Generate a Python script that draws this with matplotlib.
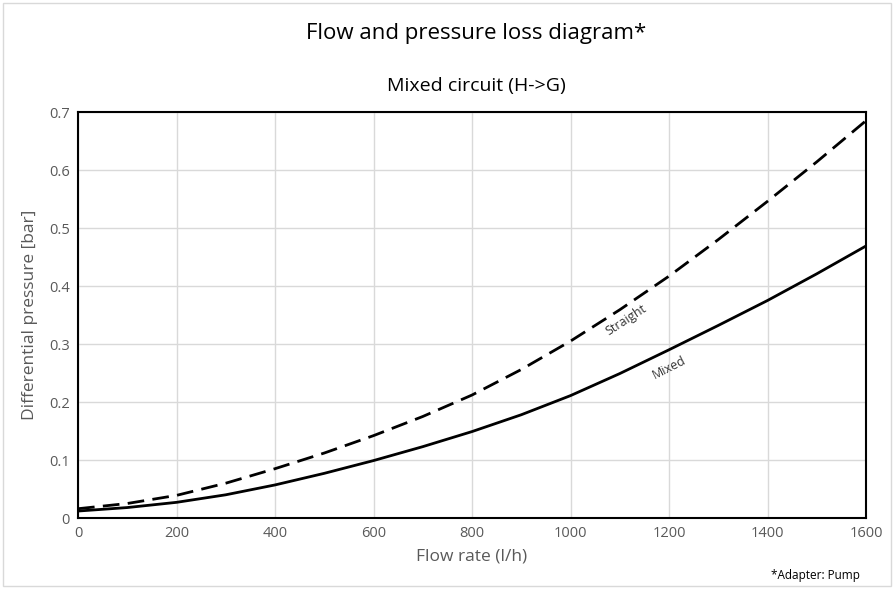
import matplotlib
matplotlib.use("Agg")
import matplotlib.pyplot as plt
from matplotlib.patches import Rectangle

flow = [0, 100, 200, 300, 400, 500, 600, 700, 800, 900, 1000, 1100, 1200, 1300, 1400, 1500, 1600]
mixed = [0.012, 0.018, 0.027, 0.040, 0.057, 0.077, 0.099, 0.123, 0.149, 0.178,
         0.211, 0.249, 0.290, 0.332, 0.375, 0.421, 0.469]
straight = [0.016, 0.025, 0.039, 0.060, 0.085, 0.112, 0.142, 0.175, 0.212, 0.256,
            0.305, 0.359, 0.417, 0.480, 0.546, 0.614, 0.685]
xticks = [0, 200, 400, 600, 800, 1000, 1200, 1400, 1600]
yticks = [0, 0.1, 0.2, 0.3, 0.4, 0.5, 0.6, 0.7]
ytick_labels = ["0", "0.1", "0.2", "0.3", "0.4", "0.5", "0.6", "0.7"]

plt.rcParams['font.family'] = ['Open Sans', 'DejaVu Sans']
W, H = 894, 589
fig = plt.figure(figsize=(W / 100, H / 100), dpi=100)
fig.patches.append(Rectangle((3 / W, 3 / H), (W - 6) / W, (H - 6) / H,
                             transform=fig.transFigure, fill=False,
                             edgecolor='#d9d9d9', linewidth=1))
ax = fig.add_axes([78 / W, (H - 518) / H, (866 - 78) / W, (518 - 112) / H])

ax.plot(flow, straight, color='black', lw=2, linestyle=(0, (6, 3)))
ax.plot(flow, mixed, color='black', lw=2)

ax.set_xlim(0, 1600)
ax.set_ylim(0, 0.7)
ax.set_xticks(xticks)
ax.set_yticks(yticks)
ax.set_yticklabels(ytick_labels)
ax.grid(True, color='#d9d9d9', lw=1)
ax.set_axisbelow(True)
for s in ax.spines.values():
    s.set_color('black')
    s.set_linewidth(1.5)
ax.tick_params(length=0, labelsize=10.5, labelcolor='#595959', pad=6)
ax.set_xlabel("Flow rate (l/h)", fontsize=12.5, color='#595959', labelpad=5)
ax.set_ylabel("Differential pressure [bar]", fontsize=12.5, color='#595959', labelpad=8)

ax.text(1112, 0.341, "Straight", rotation=33, fontsize=9, color='#333333',
        ha='center', va='center', rotation_mode='anchor')
ax.text(1200, 0.259, "Mixed", rotation=27, fontsize=9, color='#333333',
        ha='center', va='center', rotation_mode='anchor')

fig.text(476 / W, 1 - 33 / H, "Flow and pressure loss diagram*", fontsize=16,
         ha='center', va='center', color='black')
fig.text(476 / W, 1 - 86 / H, "Mixed circuit (H->G)", fontsize=14,
         ha='center', va='center', color='black')
fig.text(860 / W, 1 - 575 / H, "*Adapter: Pump", fontsize=8.5,
         ha='right', va='center', color='black')

fig.savefig("out.png", dpi=100)
